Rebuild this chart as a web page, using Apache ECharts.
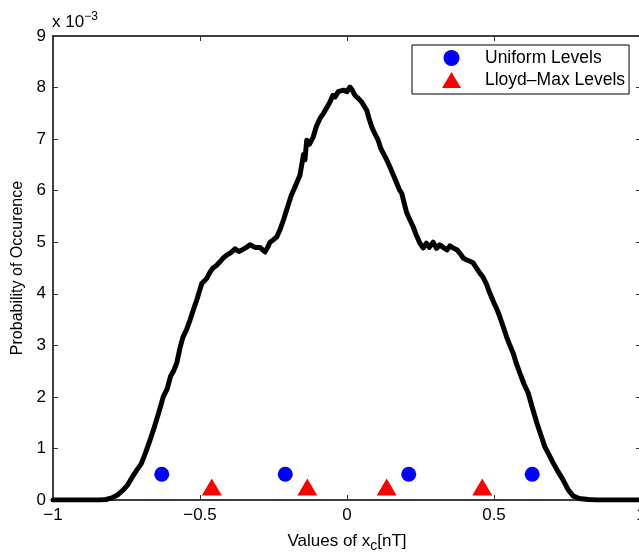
<!DOCTYPE html>
<html>
<head>
<meta charset="utf-8">
<style>html,body{margin:0;padding:0;background:#fff;}#c{width:639px;height:556px;}</style>
<script src="https://cdn.jsdelivr.net/npm/echarts@6/dist/echarts.min.js"></script>
</head>
<body>
<div id="c"></div>
<script>
// Density curve (x in nT, y in units of 1e-3)
var curveX = [-1.00,-0.90,-0.84,-0.82,-0.80,-0.78,-0.76,-0.745,-0.73,-0.715,-0.70,-0.685,-0.67,-0.655,-0.64,-0.625,-0.612,-0.60,-0.59,-0.579,-0.568,-0.558,-0.546,-0.534,-0.522,-0.511,-0.502,-0.494,-0.485,-0.477,-0.466,-0.456,-0.444,-0.432,-0.42,-0.409,-0.395,-0.381,-0.368,-0.354,-0.342,-0.33,-0.313,-0.296,-0.279,-0.27,-0.262,-0.25,-0.239,-0.228,-0.215,-0.20,-0.19,-0.175,-0.16,-0.148,-0.143,-0.137,-0.128,-0.115,-0.104,-0.092,-0.08,-0.068,-0.058,-0.048,-0.04,-0.03,-0.024,-0.012,0.0,0.01,0.018,0.027,0.04,0.05,0.067,0.075,0.084,0.095,0.106,0.115,0.123,0.135,0.146,0.158,0.169,0.178,0.186,0.195,0.203,0.215,0.225,0.237,0.248,0.259,0.27,0.28,0.293,0.305,0.315,0.327,0.34,0.35,0.361,0.375,0.385,0.396,0.41,0.429,0.44,0.452,0.463,0.475,0.486,0.50,0.51,0.52,0.532,0.543,0.554,0.565,0.576,0.588,0.602,0.616,0.63,0.646,0.66,0.673,0.687,0.701,0.718,0.735,0.752,0.769,0.79,0.82,0.85,1.0];
var curveY = [0,0,0,0.01,0.04,0.10,0.2,0.3,0.45,0.58,0.70,0.92,1.16,1.42,1.7,2.0,2.15,2.40,2.5,2.66,2.95,3.16,3.3,3.49,3.7,3.88,4.05,4.2,4.25,4.3,4.42,4.5,4.55,4.62,4.7,4.75,4.8,4.87,4.82,4.86,4.9,4.95,4.9,4.9,4.81,4.9,5.0,5.05,5.1,5.24,5.45,5.72,5.9,6.1,6.3,6.7,6.6,6.98,6.9,7.04,7.25,7.4,7.5,7.62,7.72,7.85,7.82,7.92,7.89,7.95,7.92,8.01,7.95,7.85,7.78,7.72,7.56,7.4,7.24,7.1,6.98,6.82,6.73,6.6,6.46,6.3,6.15,6.02,5.95,5.75,5.57,5.42,5.3,5.12,4.98,4.89,4.98,4.9,5.0,4.88,4.95,4.9,4.85,4.93,4.89,4.85,4.78,4.69,4.65,4.6,4.5,4.4,4.32,4.18,4.01,3.82,3.7,3.55,3.35,3.16,3.0,2.85,2.65,2.46,2.25,2.08,1.8,1.49,1.25,1.03,0.88,0.72,0.55,0.39,0.2,0.08,0.03,0.01,0,0];
var uniformX = [-0.63,-0.21,0.21,0.63];
var uniformY = [0.5,0.5,0.5,0.5];
var lloydX = [-0.46,-0.135,0.135,0.46];
var lloydY = [0.25,0.25,0.25,0.25];
var xTicks = [-1,-0.5,0,0.5,1];
var yTicks = [0,1,2,3,4,5,6,7,8,9];

function zip(a,b){return a.map(function(v,i){return [v,b[i]];});}
function fmt(v){var s=String(v);return s.charAt(0)==='-'?'\u2212'+s.slice(1):s;}

var FONT = '"Liberation Sans", Arial, Helvetica, sans-serif';
var chart = echarts.init(document.getElementById('c'), null, {renderer:'canvas'});
var tickStyle = {show:true, inside:true, length:5, lineStyle:{color:'#333', width:1}};
var axisLine = {show:true, onZero:false, lineStyle:{color:'#000', width:1.5}};
chart.setOption({
  animation:false,
  backgroundColor:'#fff',
  textStyle:{fontFamily:FONT},
  grid:{left:53, width:588, top:36, height:464, containLabel:false, outerBoundsMode:'none'},
  xAxis:[{
    type:'value', min:xTicks[0], max:xTicks[xTicks.length-1], interval:0.5,
    axisLine:axisLine, axisTick:tickStyle, splitLine:{show:false},
    axisLabel:{margin:7, color:'#000', fontSize:17, fontFamily:FONT, formatter:fmt},
    name:'Values of x{sub|c}[nT]', nameLocation:'middle', nameGap:29,
    nameTextStyle:{color:'#000', fontSize:17, fontFamily:FONT,
      rich:{sub:{fontSize:14, fontFamily:FONT, color:'#000', padding:[10,0,0,0]}}}
  },{
    type:'value', position:'top', min:xTicks[0], max:xTicks[xTicks.length-1], interval:0.5,
    axisLine:axisLine, axisTick:tickStyle, axisLabel:{show:false}, splitLine:{show:false}
  }],
  yAxis:[{
    type:'value', min:yTicks[0], max:yTicks[yTicks.length-1], interval:1,
    axisLine:axisLine, axisTick:tickStyle, splitLine:{show:false},
    axisLabel:{margin:7, color:'#000', fontSize:17, fontFamily:FONT},
    name:'Probability of Occurence', nameLocation:'middle', nameGap:23,
    nameTextStyle:{color:'#000', fontSize:16, fontFamily:FONT}
  },{
    type:'value', position:'right', min:yTicks[0], max:yTicks[yTicks.length-1], interval:1,
    axisLine:axisLine, axisTick:tickStyle, axisLabel:{show:false}, splitLine:{show:false}
  }],
  legend:{
    orient:'vertical', left:412, top:45,
    padding:[4,4,5,30], itemGap:4, itemWidth:19, itemHeight:16,
    backgroundColor:'#fff', borderColor:'#000', borderWidth:1, borderRadius:0,
    textStyle:{fontSize:17.5, fontFamily:FONT, color:'#000', lineHeight:17, padding:[0,0,0,19]},
    data:[{name:'Uniform Levels', icon:'circle'},{name:'Lloyd\u2013Max Levels', icon:'triangle'}]
  },
  graphic:[{
    type:'text', left:52, top:11,
    style:{text:'x 10{sup|\u22123}', fill:'#000', font:'17px '+FONT,
      rich:{sup:{fontSize:12, fontFamily:FONT, fill:'#000', padding:[0,0,11,0]}}}
  }],
  series:[{
    type:'line', name:'curve', data:zip(curveX,curveY), showSymbol:false, symbol:'none',
    lineStyle:{color:'#000', width:5, join:'round', cap:'round'}, z:2, legendHoverLink:false
  },{
    type:'scatter', name:'Uniform Levels', data:zip(uniformX,uniformY),
    symbol:'circle', symbolSize:15, itemStyle:{color:'#0000ff', opacity:1}, z:3
  },{
    type:'scatter', name:'Lloyd\u2013Max Levels', data:zip(lloydX,lloydY),
    symbol:'triangle', symbolSize:[20,17], itemStyle:{color:'#ff0000', opacity:1}, z:3
  }]
});
</script>
</body>
</html>
